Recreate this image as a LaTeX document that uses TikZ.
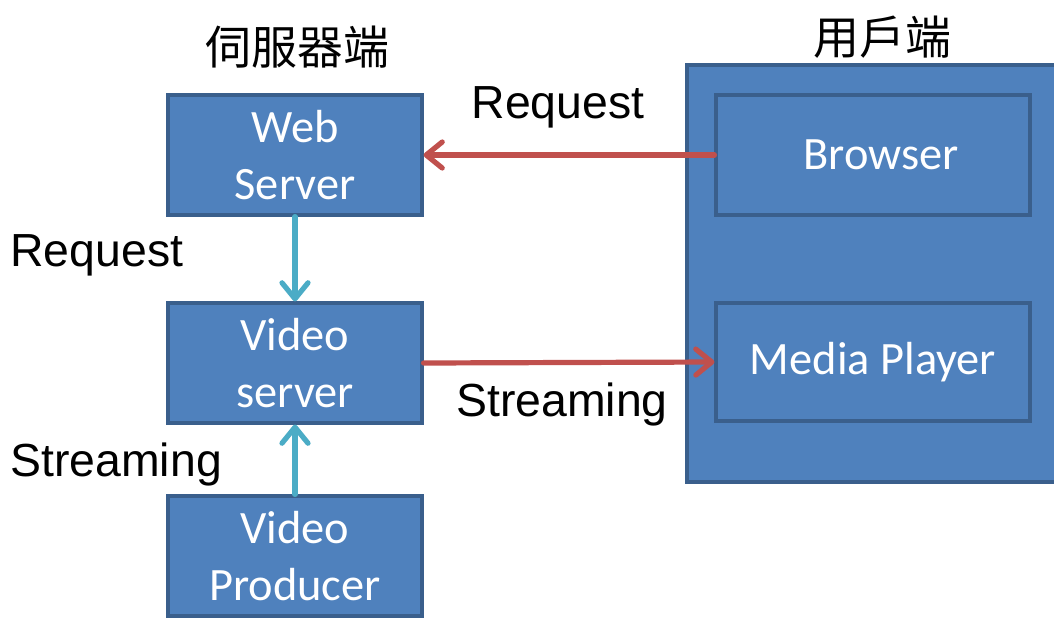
\documentclass[tikz,border=0pt]{standalone}
\usepackage{fontspec}
\setmainfont{Carlito}
\newfontfamily\labelfont{Liberation Sans}
\newfontfamily\cjkfont{Noto Sans CJK TC}
\usetikzlibrary{arrows.meta}

\definecolor{boxfill}{HTML}{4F81BD}
\definecolor{boxline}{HTML}{3A5F8C}
\definecolor{reqred}{HTML}{C0504D}
\definecolor{flowcyan}{HTML}{4BACC6}

\tikzset{
  unit/.style={draw=boxline, fill=boxfill, line width=1.6pt, rectangle,
    minimum width=127pt, minimum height=60pt, inner sep=0pt,
    text=white, align=center,
    font=\fontsize{23.2pt}{28.5pt}\selectfont},
  clientbox/.style={draw=boxline, fill=boxfill, line width=1.6pt},
  blacklabel/.style={font=\labelfont\fontsize{23.2pt}{28pt}\selectfont, inner sep=0pt},
  heading/.style={font=\cjkfont\fontsize{23pt}{28pt}\selectfont, inner sep=0pt},
  barb/.style={-{Straight Barb[length=8pt, width=13pt, line cap=round, line join=round]}},
  redarrow/.style={draw=reqred, line width=2.6pt, line cap=round, barb},
  cyanarrow/.style={draw=flowcyan, line width=2.6pt, line cap=round, barb}
}

\begin{document}
\begin{tikzpicture}[x=0.5pt, y=-0.5pt]
  \useasboundingbox (0,0) rectangle (1054,617);

  % client side container (runs off the right edge)
  \draw[clientbox] (687,65) rectangle (1070,482);

  % headings
  \node[heading] (hserver) at (297,47) {伺服器端};
  \node[heading] (hclient) at (882,37) {用戶端};

  % server side units
  \node[unit] (web) at (295,155) {Web\\Server};
  \node[unit] (video) at (295,363) {Video\\server};
  \node[unit] (producer) at (295,556) {Video\\Producer};

  % client side units
  \node[unit, minimum width=157pt] (browser) at (873,155) {\hspace*{8pt}Browser};
  \node[unit, minimum width=157pt, minimum height=59pt] (player) at (873,362) {Media Player};

  % connectors
  \draw[redarrow] (browser.west) -- (web.east);
  \draw[redarrow] (video.east) -- (player.west);
  \draw[cyanarrow] (web.south) -- (video.north);
  \draw[cyanarrow] (producer.north) -- (video.south);

  % connector labels
  \node[blacklabel] (lreq1) at (558,107) {Request};
  \node[blacklabel, anchor=west] (lreq2) at (10,255) {Request};
  \node[blacklabel] (lstream1) at (562,404) {Streaming};
  \node[blacklabel, anchor=west] (lstream2) at (10,464) {Streaming};
\end{tikzpicture}
\end{document}
